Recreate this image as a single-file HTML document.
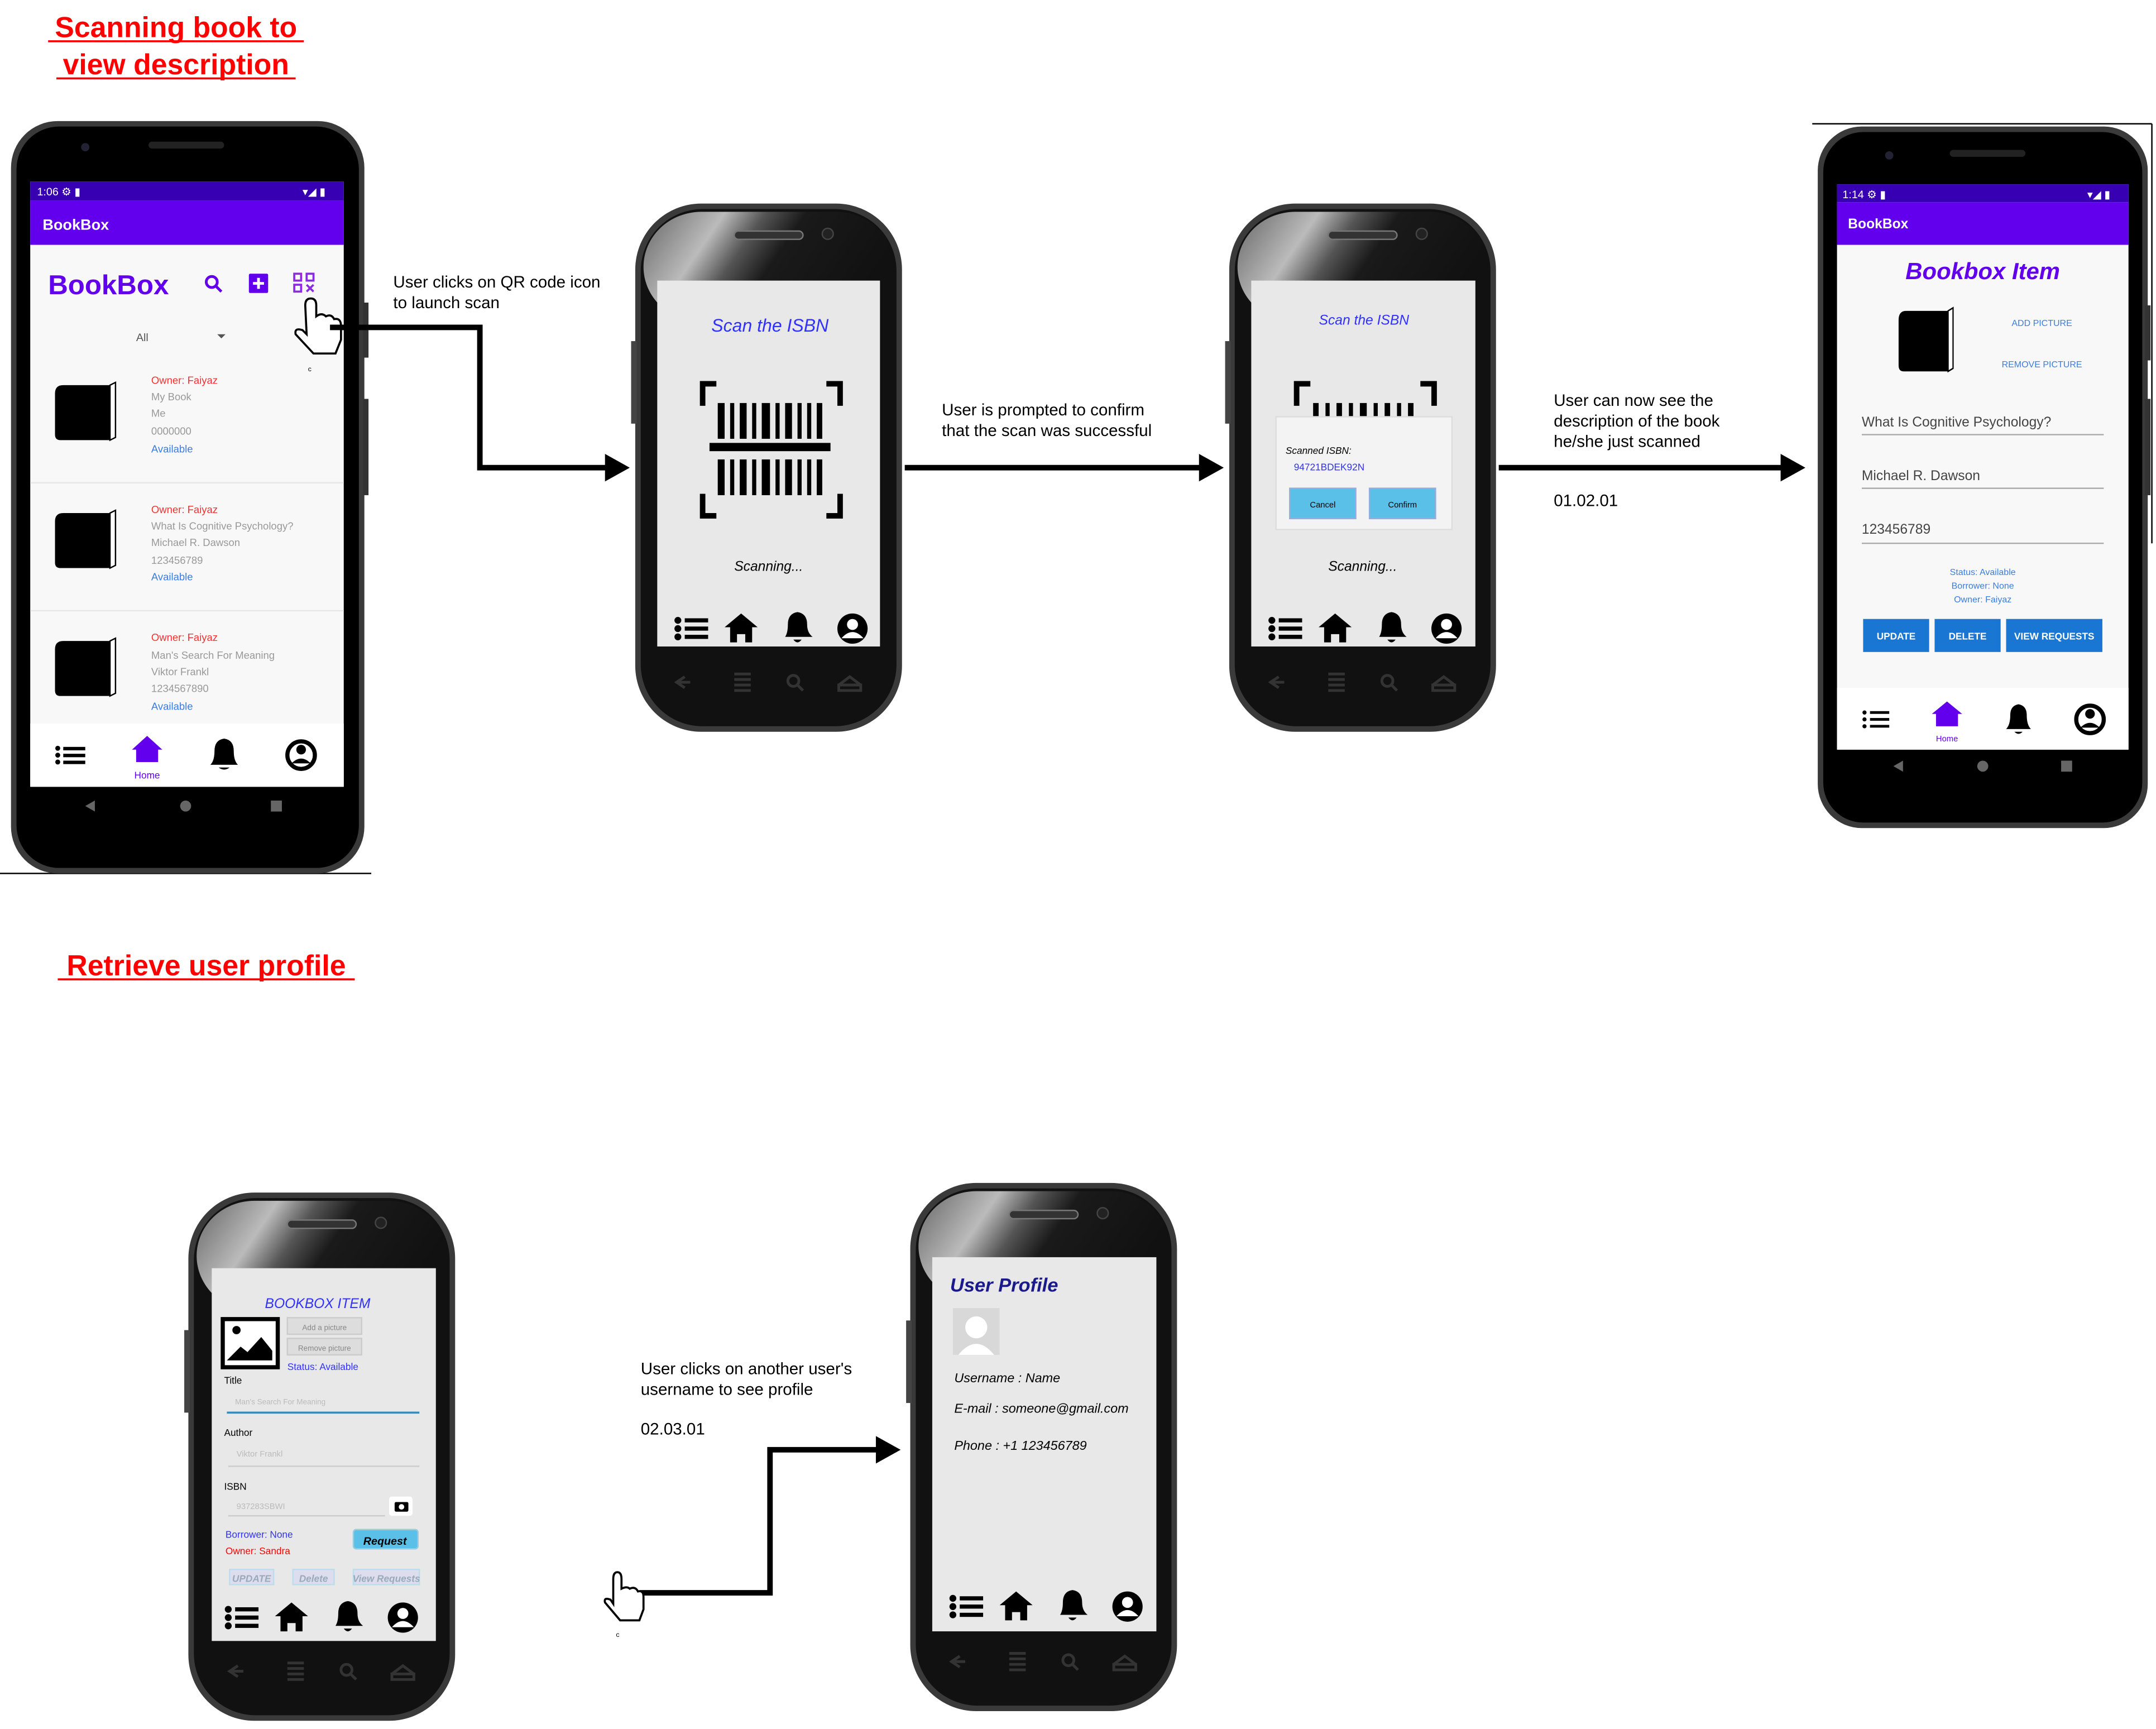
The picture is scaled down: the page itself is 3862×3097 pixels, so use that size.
<!DOCTYPE html>
<html><head><meta charset="utf-8"><style>
html,body{margin:0;padding:0;background:#fff;}
svg{display:block;}
text{font-family:"Liberation Sans",sans-serif;}
</style></head><body>
<svg width="3862" height="3097" viewBox="0 0 1568 1257" preserveAspectRatio="none" xmlns="http://www.w3.org/2000/svg">
<defs>
<linearGradient id="gl" x1="0" y1="0" x2="1" y2="0.3">
<stop offset="0" stop-color="#666"/><stop offset="0.3" stop-color="#bbb"/><stop offset="0.45" stop-color="#555"/><stop offset="0.6" stop-color="#1a1a1a"/><stop offset="1" stop-color="#111"/>
</linearGradient>
<g id="sam">
<rect x="0" y="0" width="194" height="384" rx="48" fill="#3a3a3a"/>
<rect x="4" y="4" width="186" height="376" rx="45" fill="#111"/>
<rect x="6" y="6" width="182" height="80" rx="42" fill="url(#gl)"/>
<rect x="72" y="20" width="50" height="6" rx="3" fill="#333" stroke="#777" stroke-width="1"/>
<circle cx="140" cy="22" r="4" fill="#222" stroke="#444"/>
<rect x="-3" y="100" width="4" height="60" fill="#444"/>
<g stroke="#333" stroke-width="2" fill="none">
<path d="M30 348 h10 M36 344 l-6 4 6 4"/><path d="M72 342 h12 M72 346 h12 M72 350 h12 M72 354 h12"/><circle cx="115" cy="347" r="4"/><path d="M118 350 l4 4"/><path d="M148 350 h16 v4 h-16z M148 350 l8 -6 8 6"/>
</g>
</g>
<g id="nav">
<circle cx="0" cy="-6" r="2.5"/><circle cx="0" cy="0" r="2.5"/><circle cx="0" cy="6" r="2.5"/>
<rect x="5" y="-7.5" width="17" height="3"/><rect x="5" y="-1.5" width="17" height="3"/><rect x="5" y="4.5" width="17" height="3"/>
<path d="M34 -1 l12 -10 l12 10 h-4 v11 h-5 v-6 h-6 v6 h-5 v-11z"/>
<path d="M78 6 q2 -3 2 -9 q0 -8 7 -9 q7 1 7 9 q0 6 4 9z M84 8 q3 4 6 0z"/>
<circle cx="127" cy="0" r="11"/><circle cx="127" cy="-3" r="4" fill="#fff"/><path d="M119 7 q8 -9 16 0z" fill="#fff"/>
</g>
<g id="book">
<path d="M2 6 q0 -6 6 -6 h34 v40 h-36 q-4 0 -4 -4z" fill="#000"/>
<path d="M42 0 l4 -2 v40 l-4 2z" fill="#fff" stroke="#000" stroke-width="1"/>
</g>
</defs>

<!-- Titles -->
<text x="128" y="27" font-size="21" font-weight="bold" fill="#ff0000" text-anchor="middle">Scanning book to</text>
<text x="128" y="54" font-size="21" font-weight="bold" fill="#ff0000" text-anchor="middle">view description</text>
<line x1="35" y1="30" x2="221" y2="30" stroke="#f00" stroke-width="1.5"/>
<line x1="41" y1="57" x2="215" y2="57" stroke="#f00" stroke-width="1.5"/>
<text x="150" y="709" font-size="21" font-weight="bold" fill="#ff0000" text-anchor="middle">Retrieve user profile</text>
<line x1="42" y1="712" x2="258" y2="712" stroke="#f00" stroke-width="1.5"/>

<!-- Phone 1 (pixel) -->
<line x1="0" y1="635" x2="270" y2="635" stroke="#000" stroke-width="1"/>
<rect x="8" y="88" width="257" height="547" rx="34" fill="#3a3a3a"/>
<rect x="12" y="92" width="249" height="539" rx="31" fill="#000"/>
<rect x="264" y="220" width="4" height="40" fill="#333"/><rect x="264" y="290" width="4" height="70" fill="#333"/>
<circle cx="62" cy="107" r="3" fill="#223"/><rect x="108" y="103" width="55" height="5" rx="2.5" fill="#222"/>
<rect x="22" y="132" width="228" height="440" fill="#f8f8f8"/>
<rect x="22" y="132" width="228" height="14" fill="#3700b3"/>
<text x="27" y="142" font-size="8" fill="#fff">1:06 ⚙ ▮</text><text x="220" y="142" font-size="8" fill="#fff">▾◢ ▮</text>
<rect x="22" y="146" width="228" height="32" fill="#6200ee"/>
<text x="31" y="167" font-size="11" font-weight="bold" fill="#fff">BookBox</text>
<text x="35" y="214" font-size="20" font-weight="bold" fill="#6200ee">BookBox</text>
<circle cx="154" cy="205" r="4" fill="none" stroke="#6200ee" stroke-width="2"/><line x1="157" y1="208" x2="161" y2="212" stroke="#6200ee" stroke-width="2"/>
<rect x="181" y="199" width="14" height="14" rx="1" fill="#6200ee"/><path d="M188 202 v8 M184 206 h8" stroke="#fff" stroke-width="2"/>
<g fill="none" stroke="#8a2be2" stroke-width="1.5"><rect x="214" y="199" width="5" height="5"/><rect x="223" y="199" width="5" height="5"/><rect x="214" y="207" width="5" height="5"/><path d="M223 207 l5 5 M228 207 l-5 5"/></g>
<text x="99" y="248" font-size="8" fill="#555">All</text><path d="M158 243 h6 l-3 3z" fill="#555"/>
<g transform="translate(38,280)"><use href="#book"/></g>
<g transform="translate(38,373)"><use href="#book"/></g>
<g transform="translate(38,466)"><use href="#book"/></g>
<g font-size="7.5">
<text x="110" y="279" fill="#e33">Owner: Faiyaz</text><text x="110" y="291" fill="#999">My Book</text><text x="110" y="303" fill="#999">Me</text><text x="110" y="316" fill="#999">0000000</text><text x="110" y="329" fill="#3a7de0">Available</text>
<text x="110" y="373" fill="#e33">Owner: Faiyaz</text><text x="110" y="385" fill="#999">What Is Cognitive Psychology?</text><text x="110" y="397" fill="#999">Michael R. Dawson</text><text x="110" y="410" fill="#999">123456789</text><text x="110" y="422" fill="#3a7de0">Available</text>
<text x="110" y="466" fill="#e33">Owner: Faiyaz</text><text x="110" y="479" fill="#999">Man's Search For Meaning</text><text x="110" y="491" fill="#999">Viktor Frankl</text><text x="110" y="503" fill="#999">1234567890</text><text x="110" y="516" fill="#3a7de0">Available</text>
</g>
<line x1="22" y1="351" x2="250" y2="351" stroke="#e6e6e6"/><line x1="22" y1="444" x2="250" y2="444" stroke="#e6e6e6"/>
<rect x="22" y="526" width="228" height="46" fill="#fff"/>
<g fill="#000"><circle cx="42" cy="544" r="1.8"/><circle cx="42" cy="549" r="1.8"/><circle cx="42" cy="554" r="1.8"/><rect x="46" y="543" width="16" height="2.5"/><rect x="46" y="548" width="16" height="2.5"/><rect x="46" y="553" width="16" height="2.5"/></g>
<path d="M96 545 l11 -10 l11 10 h-3 v9 h-16 v-9z" fill="#6200ee"/><text x="107" y="566" font-size="7" fill="#6200ee" text-anchor="middle">Home</text>
<path d="M153 556 q3 -3 3 -10 q0 -8 7 -9 q7 1 7 9 q0 7 3 10z M159 558 q4 3 8 0z" fill="#000"/>
<circle cx="219" cy="549" r="10" fill="none" stroke="#000" stroke-width="3"/><circle cx="219" cy="545" r="3.5" fill="#000"/><path d="M212 555 q7 -7 14 0" fill="#000"/>
<path d="M69 582 l-7 4 7 4z" fill="#666"/><circle cx="135" cy="586" r="4" fill="#666"/><rect x="197" y="582" width="8" height="8" fill="#666"/>
<!-- hand cursor -->
<path d="M222 222 q0 -5 4 -5 q4 0 4 5 v8 q4 -3 7 0 q4 -2 6 2 q5 -1 5 5 v10 l-4 10 h-16 l-13 -14 q-1 -5 5 -3 l3 3z" fill="#fff" stroke="#000" stroke-width="1.5"/>
<text x="224" y="270" font-size="5">c</text>

<!-- Arrow 1 -->
<path d="M240 238 H349 V340 H446" fill="none" stroke="#000" stroke-width="4"/>
<path d="M440 330 L458 340 L440 350z" fill="#000"/>
<text x="286" y="209" font-size="12">User clicks on QR code icon</text>
<text x="286" y="224" font-size="12">to launch scan</text>

<!-- Phone 2 -->
<g transform="translate(462,148)"><use href="#sam"/></g>
<rect x="478" y="204" width="162" height="266" fill="#e8e8e8"/>
<text x="560" y="241" font-size="13" font-style="italic" fill="#3030ff" text-anchor="middle" font-family="Liberation Serif">Scan the ISBN</text>
<g fill="#000">
<path d="M509 277 h12 v4 h-8 v14 h-4z"/><path d="M613 277 h-12 v4 h8 v14 h4z"/><path d="M509 377 h12 v-4 h-8 v-14 h-4z"/><path d="M613 377 h-12 v-4 h8 v-14 h4z"/>
<rect x="516" y="322" width="88" height="6"/>
<rect x="522" y="293" width="5" height="26"/><rect x="531" y="293" width="3" height="26"/><rect x="538" y="293" width="5" height="26"/><rect x="547" y="293" width="3" height="26"/><rect x="554" y="293" width="6" height="26"/><rect x="564" y="293" width="3" height="26"/><rect x="571" y="293" width="5" height="26"/><rect x="580" y="293" width="3" height="26"/><rect x="587" y="293" width="3" height="26"/><rect x="594" y="293" width="4" height="26"/>
<rect x="522" y="334" width="5" height="26"/><rect x="531" y="334" width="3" height="26"/><rect x="538" y="334" width="5" height="26"/><rect x="547" y="334" width="3" height="26"/><rect x="554" y="334" width="6" height="26"/><rect x="564" y="334" width="3" height="26"/><rect x="571" y="334" width="5" height="26"/><rect x="580" y="334" width="3" height="26"/><rect x="587" y="334" width="3" height="26"/><rect x="594" y="334" width="4" height="26"/>
</g>
<text x="559" y="415" font-size="10" font-style="italic" text-anchor="middle" font-family="Liberation Serif">Scanning...</text>
<g transform="translate(493,457)"><use href="#nav" fill="#000"/></g>

<!-- Arrow 2 -->
<path d="M658 340 H878" stroke="#000" stroke-width="4"/>
<path d="M872 330 L890 340 L872 350z" fill="#000"/>
<text x="685" y="302" font-size="12">User is prompted to confirm</text>
<text x="685" y="317" font-size="12">that the scan was successful</text>

<!-- Phone 3 -->
<g transform="translate(894,148)"><use href="#sam"/></g>
<rect x="910" y="204" width="163" height="266" fill="#e8e8e8"/>
<text x="992" y="236" font-size="10" font-style="italic" fill="#3030ff" text-anchor="middle" font-family="Liberation Serif">Scan the ISBN</text>
<g fill="#000"><path d="M941 277 h12 v4 h-8 v14 h-4z"/><path d="M1045 277 h-12 v4 h8 v14 h4z"/>
<rect x="955" y="293" width="4" height="10"/><rect x="964" y="293" width="3" height="10"/><rect x="972" y="293" width="4" height="10"/><rect x="981" y="293" width="3" height="10"/><rect x="989" y="293" width="5" height="10"/><rect x="999" y="293" width="3" height="10"/><rect x="1007" y="293" width="4" height="10"/><rect x="1016" y="293" width="3" height="10"/><rect x="1024" y="293" width="4" height="10"/></g>
<rect x="928" y="303" width="128" height="82" fill="#f3f3f3" stroke="#ddd"/>
<text x="935" y="330" font-size="7" font-style="italic">Scanned ISBN:</text>
<text x="941" y="342" font-size="7" fill="#3030ff">94721BDEK92N</text>
<rect x="938" y="355" width="48" height="22" fill="#5bc0e8" stroke="#9ad"/><rect x="996" y="355" width="48" height="22" fill="#5bc0e8" stroke="#9ad"/>
<text x="962" y="369" font-size="6" text-anchor="middle">Cancel</text><text x="1020" y="369" font-size="6" text-anchor="middle">Confirm</text>
<text x="991" y="415" font-size="10" font-style="italic" text-anchor="middle" font-family="Liberation Serif">Scanning...</text>
<g transform="translate(925,457)"><use href="#nav" fill="#000"/></g>

<!-- Arrow 3 -->
<path d="M1090 340 H1300" stroke="#000" stroke-width="4"/>
<path d="M1295 330 L1313 340 L1295 350z" fill="#000"/>
<text x="1130" y="295" font-size="12">User can now see the</text>
<text x="1130" y="310" font-size="12">description of the book</text>
<text x="1130" y="325" font-size="12">he/she just scanned</text>
<text x="1130" y="368" font-size="12">01.02.01</text>

<!-- Phone 4 -->
<line x1="1318" y1="90" x2="1565" y2="90" stroke="#000"/><line x1="1565" y1="90" x2="1565" y2="395" stroke="#000"/>
<rect x="1322" y="92" width="240" height="510" rx="32" fill="#3a3a3a"/>
<rect x="1326" y="96" width="232" height="502" rx="29" fill="#000"/>
<rect x="1560" y="222" width="4" height="40" fill="#333"/><rect x="1560" y="290" width="4" height="70" fill="#333"/>
<circle cx="1374" cy="113" r="3" fill="#223"/><rect x="1418" y="109" width="55" height="5" rx="2.5" fill="#222"/>
<rect x="1336" y="134" width="212" height="411" fill="#f8f8f8"/>
<rect x="1336" y="134" width="212" height="13" fill="#3700b3"/>
<text x="1340" y="144" font-size="8" fill="#fff">1:14 ⚙ ▮</text><text x="1518" y="144" font-size="8" fill="#fff">▾◢ ▮</text>
<rect x="1336" y="147" width="212" height="31" fill="#6200ee"/>
<text x="1344" y="166" font-size="10" font-weight="bold" fill="#fff">BookBox</text>
<text x="1442" y="203" font-size="17" font-weight="bold" font-style="italic" fill="#6200ee" text-anchor="middle">Bookbox Item</text>
<g transform="translate(1379,226) scale(0.9,1.1)"><use href="#book"/></g>
<text x="1485" y="237" font-size="6.5" fill="#3a7de0" text-anchor="middle">ADD PICTURE</text>
<text x="1485" y="267" font-size="6.5" fill="#3a7de0" text-anchor="middle">REMOVE PICTURE</text>
<text x="1354" y="310" font-size="10" fill="#444">What Is Cognitive Psychology?</text><line x1="1354" y1="316" x2="1530" y2="316" stroke="#aaa"/>
<text x="1354" y="349" font-size="10" fill="#444">Michael R. Dawson</text><line x1="1354" y1="355" x2="1530" y2="355" stroke="#aaa"/>
<text x="1354" y="388" font-size="10" fill="#444">123456789</text><line x1="1354" y1="395" x2="1530" y2="395" stroke="#aaa"/>
<text x="1442" y="418" font-size="6.5" fill="#3a7de0" text-anchor="middle">Status: Available</text>
<text x="1442" y="428" font-size="6.5" fill="#3a7de0" text-anchor="middle">Borrower: None</text>
<text x="1442" y="438" font-size="6.5" fill="#3a7de0" text-anchor="middle">Owner: Faiyaz</text>
<rect x="1355" y="450" width="48" height="24" fill="#1976d2"/><rect x="1407" y="450" width="48" height="24" fill="#1976d2"/><rect x="1459" y="450" width="70" height="24" fill="#1976d2"/>
<text x="1379" y="465" font-size="7" font-weight="bold" fill="#fff" text-anchor="middle">UPDATE</text>
<text x="1431" y="465" font-size="7" font-weight="bold" fill="#fff" text-anchor="middle">DELETE</text>
<text x="1494" y="465" font-size="7" font-weight="bold" fill="#fff" text-anchor="middle">VIEW REQUESTS</text>
<rect x="1336" y="500" width="212" height="45" fill="#fff"/>
<g fill="#000"><circle cx="1356" cy="518" r="1.5"/><circle cx="1356" cy="523" r="1.5"/><circle cx="1356" cy="528" r="1.5"/><rect x="1360" y="517" width="14" height="2"/><rect x="1360" y="522" width="14" height="2"/><rect x="1360" y="527" width="14" height="2"/></g>
<path d="M1405 519 l11 -9 l11 9 h-3 v9 h-16 v-9z" fill="#6200ee"/><text x="1416" y="539" font-size="6" fill="#6200ee" text-anchor="middle">Home</text>
<path d="M1459 530 q3 -3 3 -10 q0 -7 6 -8 q6 1 6 8 q0 7 3 10z M1465 532 q3 3 6 0z" fill="#000"/>
<circle cx="1520" cy="523" r="10" fill="none" stroke="#000" stroke-width="3"/><circle cx="1520" cy="519" r="3.5" fill="#000"/><path d="M1513 529 q7 -7 14 0" fill="#000"/>
<path d="M1384 553 l-7 4 7 4z" fill="#666"/><circle cx="1442" cy="557" r="4" fill="#666"/><rect x="1499" y="553" width="8" height="8" fill="#666"/>

<!-- Phone 5 -->
<g transform="translate(137,867)"><use href="#sam"/></g>
<rect x="154" y="922" width="163" height="271" fill="#e8e8e8"/>
<text x="231" y="951" font-size="10" font-style="italic" fill="#3030ff" text-anchor="middle">BOOKBOX ITEM</text>
<rect x="162" y="959" width="40" height="35" fill="#fff" stroke="#000" stroke-width="3"/>
<circle cx="172" cy="967" r="3" fill="#000"/><path d="M165 989 l10 -10 l5 4 l10 -11 l8 10 v7z" fill="#000"/>
<rect x="209" y="958" width="54" height="12" fill="#ddd" stroke="#ccc"/><rect x="209" y="973" width="54" height="12" fill="#ddd" stroke="#ccc"/>
<text x="236" y="967" font-size="5.5" fill="#888" text-anchor="middle">Add a picture</text><text x="236" y="982" font-size="5.5" fill="#888" text-anchor="middle">Remove picture</text>
<text x="209" y="996" font-size="7" fill="#3030ff">Status: Available</text>
<text x="163" y="1006" font-size="7">Title</text>
<text x="171" y="1021" font-size="5.5" fill="#bbb">Man's Search For Meaning</text>
<line x1="165" y1="1027" x2="305" y2="1027" stroke="#2a8fc8" stroke-width="1.5"/>
<text x="163" y="1044" font-size="7">Author</text>
<text x="172" y="1059" font-size="6" fill="#bbb">Viktor Frankl</text>
<line x1="166" y1="1066" x2="305" y2="1066" stroke="#ccc"/>
<text x="163" y="1083" font-size="7">ISBN</text>
<text x="172" y="1097" font-size="6" fill="#bbb">937283SBWI</text>
<line x1="166" y1="1102" x2="280" y2="1102" stroke="#ccc"/>
<rect x="283" y="1088" width="17" height="14" rx="2" fill="#fff"/><rect x="287" y="1092" width="10" height="7" rx="1" fill="#000"/><circle cx="292" cy="1095.5" r="2" fill="#fff"/>
<text x="164" y="1118" font-size="7" fill="#3030ff">Borrower: None</text>
<text x="164" y="1130" font-size="7" fill="#f00">Owner: Sandra</text>
<rect x="257" y="1112" width="47" height="14" rx="2" fill="#5bc0e8" stroke="#9cd"/>
<text x="280" y="1123" font-size="8" font-weight="bold" font-style="italic" text-anchor="middle">Request</text>
<rect x="167" y="1141" width="32" height="11" fill="#dde" stroke="#bde"/><rect x="213" y="1141" width="30" height="11" fill="#dde" stroke="#bde"/><rect x="257" y="1141" width="48" height="11" fill="#dde" stroke="#bde"/>
<g font-size="7" font-weight="bold" font-style="italic" fill="#9ab" text-anchor="middle"><text x="183" y="1150">UPDATE</text><text x="228" y="1150">Delete</text><text x="281" y="1150">View Requests</text></g>
<g transform="translate(166,1176)"><use href="#nav" fill="#000"/></g>

<!-- Arrow 4 -->
<path d="M465 1158 H560 V1054 H642" fill="none" stroke="#000" stroke-width="4"/>
<path d="M637 1044 L655 1054 L637 1064z" fill="#000"/>
<path d="M446 1148 q0 -5 3 -5 q3 0 3 5 v7 q4 -2 6 0 q4 -2 6 2 q4 -1 4 4 v9 l-3 8 h-14 l-11 -13 q-1 -4 4 -2 l2 3z" fill="#fff" stroke="#000" stroke-width="1.5"/>
<text x="448" y="1190" font-size="5">c</text>
<text x="466" y="999" font-size="12">User clicks on another user's</text>
<text x="466" y="1014" font-size="12">username to see profile</text>
<text x="466" y="1043" font-size="12">02.03.01</text>

<!-- Phone 6 -->
<g transform="translate(662,860)"><use href="#sam"/></g>
<rect x="678" y="914" width="163" height="272" fill="#e8e8e8"/>
<text x="691" y="939" font-size="14" font-style="italic" font-weight="bold" fill="#1a1a8a" font-family="Liberation Serif">User Profile</text>
<rect x="693" y="951" width="34" height="34" fill="#d8d8d8"/><circle cx="710" cy="965" r="8" fill="#fff"/><path d="M697 985 q13 -16 26 0z" fill="#fff"/>
<text x="694" y="1005" font-size="9.5" font-style="italic">Username : Name</text>
<text x="694" y="1027" font-size="9.5" font-style="italic">E-mail : someone@gmail.com</text>
<text x="694" y="1054" font-size="9.5" font-style="italic">Phone : +1 123456789</text>
<g transform="translate(693,1168)"><use href="#nav" fill="#000"/></g>
</svg>
</body></html>
